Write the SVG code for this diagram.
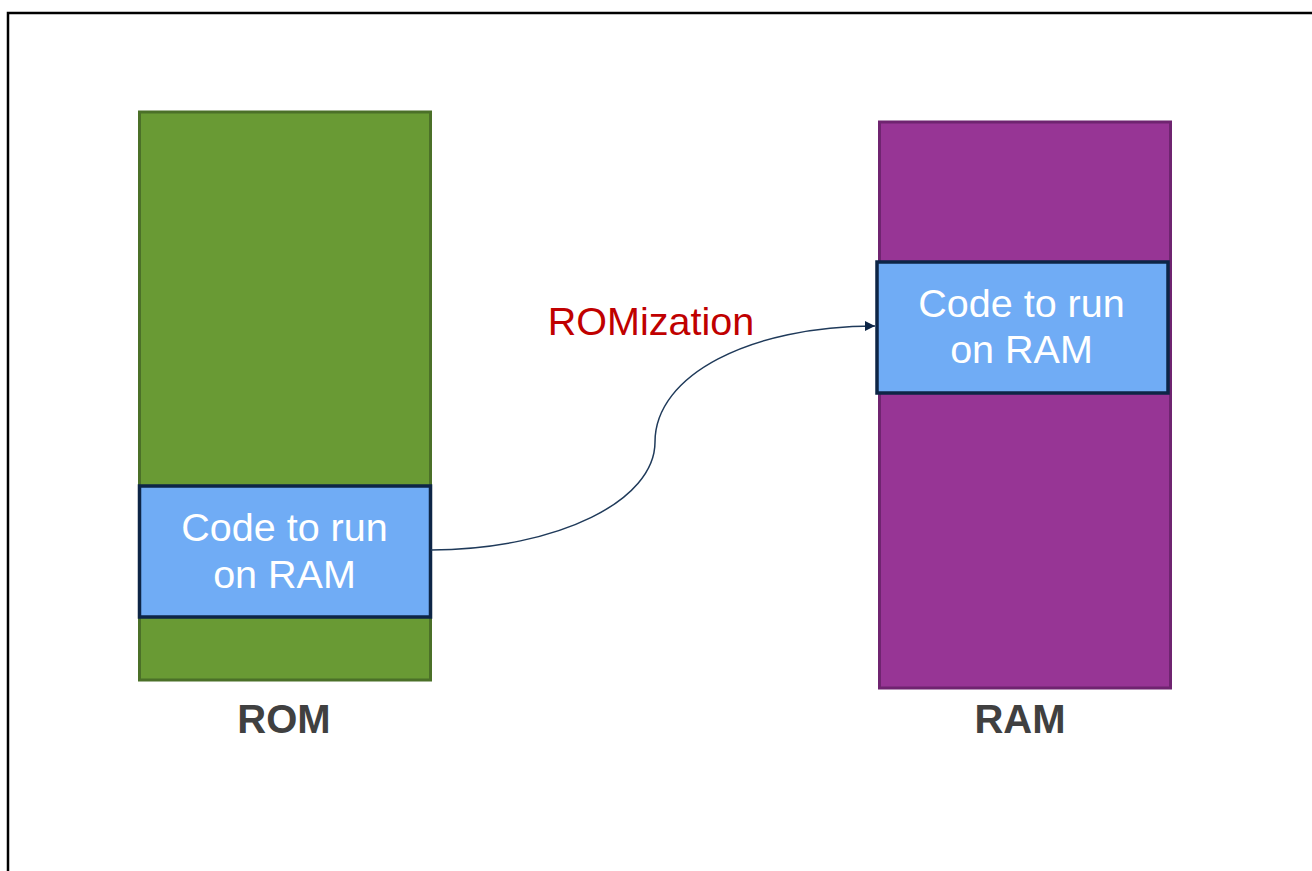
<svg xmlns="http://www.w3.org/2000/svg" width="1312" height="871" viewBox="0 0 1312 871">
<defs>
<style>
.code{fill:#70acf5;stroke:#0d2546;stroke-width:3.5}
.ct{font-family:"Liberation Sans",Arial,sans-serif;font-size:39.5px;fill:#ffffff;text-anchor:middle}
.lbl{font-family:"Liberation Sans",Arial,sans-serif;font-size:40px;font-weight:bold;fill:#404040;text-anchor:middle}
.conn{fill:none;stroke:#1f3a5a;stroke-width:1.5}
</style>
<marker id="arr" viewBox="0 0 10 10" refX="10" refY="5" markerWidth="11" markerHeight="10" markerUnits="userSpaceOnUse" orient="auto">
<path d="M0,0 L10,5 L0,10 z" fill="#0d2546"/>
</marker>
</defs>
<rect width="1312" height="871" fill="#ffffff"/>
<path d="M8,871 V13 H1312" fill="none" stroke="#000000" stroke-width="2.5"/>
<g id="rom">
<rect x="139.5" y="112" width="291" height="568" fill="#699a34" stroke="#4b7028" stroke-width="3"/>
<text class="lbl" x="284" y="733">ROM</text>
</g>
<g id="rom-code">
<rect class="code" x="139.5" y="486" width="291" height="131"/>
<text class="ct" x="284.5" y="541">Code to run</text>
<text class="ct" x="284.5" y="588">on RAM</text>
</g>
<g id="ram">
<rect x="879.5" y="122" width="291" height="566" fill="#973595" stroke="#6f2470" stroke-width="3"/>
<text class="lbl" x="1020" y="733">RAM</text>
</g>
<g id="ram-code">
<rect class="code" x="877" y="262" width="291" height="131"/>
<text class="ct" x="1021.5" y="317">Code to run</text>
<text class="ct" x="1021.5" y="363">on RAM</text>
</g>
<g id="connectors">
<path class="conn" d="M431,550 C560,549 655,500 655,442 C655,375 750,326 875,326" marker-end="url(#arr)"/>
<text x="651" y="335" font-family="'Liberation Sans',Arial,sans-serif" font-size="39.5" fill="#c00000" text-anchor="middle">ROMization</text>
</g>
</svg>
